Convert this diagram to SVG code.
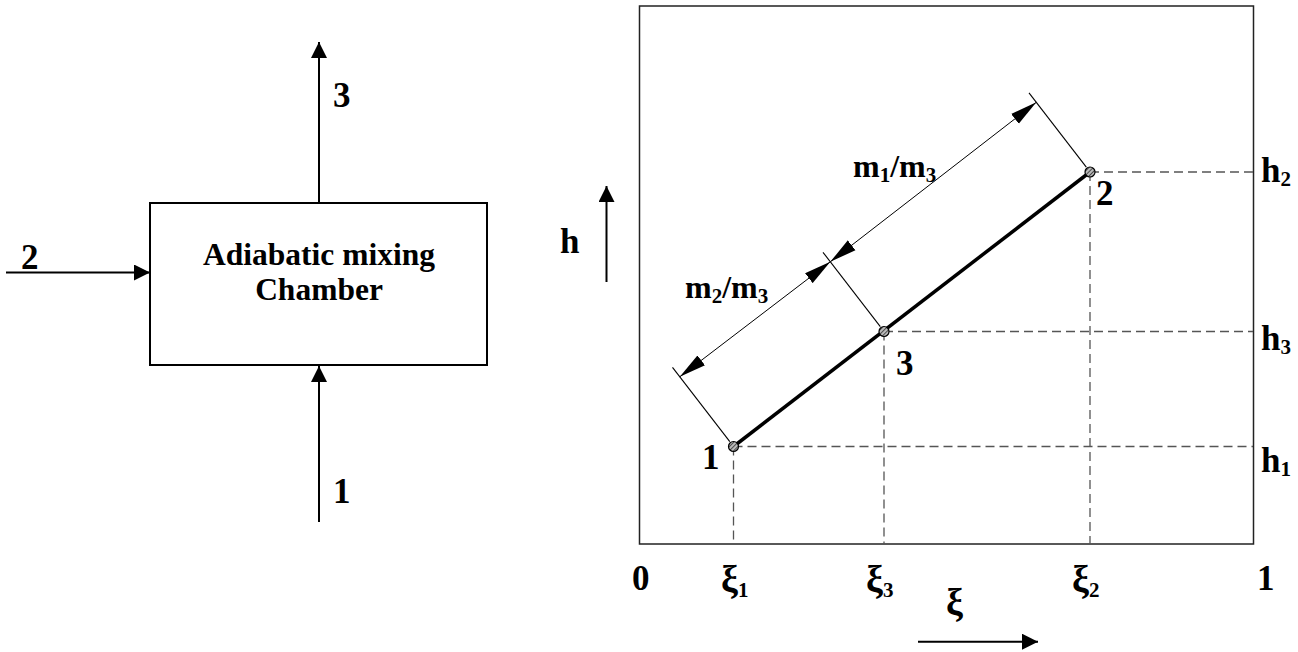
<svg xmlns="http://www.w3.org/2000/svg" width="1298" height="652" viewBox="0 0 1298 652">
<style>
  text { font-family: "Liberation Serif", "Times New Roman", serif; font-weight: bold; fill: #000; }
  .lbl { font-size: 35px; }
  .mlbl { font-size: 32px; }
  .xi { font-size: 38px; }
  .box-text { font-size: 31.5px; text-anchor: middle; }
  .sub { font-size: 21px; }
  .flow { stroke: #000; stroke-width: 2; fill: none; }
  .dash { stroke: #555; stroke-width: 1.3; stroke-dasharray: 9 5; fill: none; }
  .ext { stroke: #000; stroke-width: 1.1; fill: none; }
  .dim { stroke: #000; stroke-width: 1; fill: none; }
  .pt { fill: url(#hatch); stroke: #000; stroke-width: 1.2; }
</style>
<defs>
  <marker id="arr" markerUnits="userSpaceOnUse" markerWidth="16" markerHeight="16" viewBox="0 0 15 15" refX="15" refY="7.5" orient="auto">
    <path d="M0,0 L15,7.5 L0,15 Z" fill="#000"/>
  </marker>
  <marker id="darr" markerUnits="userSpaceOnUse" markerWidth="27" markerHeight="13" viewBox="0 0 26 12" refX="26" refY="6" orient="auto-start-reverse">
    <path d="M0,0 L26,6 L0,12 Z" fill="#000"/>
  </marker>
  <pattern id="hatch" patternUnits="userSpaceOnUse" width="3" height="3" patternTransform="rotate(45)">
    <rect width="3" height="3" fill="#bbb"/>
    <line x1="0" y1="0" x2="0" y2="3" stroke="#000" stroke-width="1.2"/>
  </pattern>
</defs>

<!-- Left: mixing chamber -->
<g id="chamber">
  <rect x="150" y="203" width="337" height="162" fill="#fff" stroke="#000" stroke-width="2"/>
  <text class="box-text" x="319" y="265">Adiabatic mixing</text>
  <text class="box-text" x="319" y="300">Chamber</text>
</g>
<g id="flows">
  <line class="flow" x1="319" y1="203" x2="319" y2="42" marker-end="url(#arr)"/>
  <line class="flow" x1="6" y1="272.5" x2="150" y2="272.5" marker-end="url(#arr)"/>
  <line class="flow" x1="319" y1="522" x2="319" y2="366" marker-end="url(#arr)"/>
</g>
<g id="flow-labels">
  <text class="lbl" x="333" y="107">3</text>
  <text class="lbl" x="21" y="269">2</text>
  <text class="lbl" x="333" y="503">1</text>
</g>

<!-- Right: h-xi diagram -->
<g id="frame">
  <rect x="639.5" y="6" width="614" height="538" fill="none" stroke="#222" stroke-width="1.5"/>
</g>
<g id="guides">
  <line class="dash" x1="1090" y1="172" x2="1253" y2="172"/>
  <line class="dash" x1="884" y1="331.5" x2="1253" y2="331.5"/>
  <line class="dash" x1="733.5" y1="446.5" x2="1253" y2="446.5"/>
  <line class="dash" x1="733.5" y1="446.5" x2="733.5" y2="544"/>
  <line class="dash" x1="884" y1="331.5" x2="884" y2="544"/>
  <line class="dash" x1="1090" y1="172" x2="1090" y2="544"/>
</g>
<g id="mixing-line">
  <line x1="733.5" y1="446.5" x2="1090" y2="172" stroke="#000" stroke-width="3.5"/>
</g>
<g id="dimensions">
  <line class="ext" x1="729.8" y1="441.7" x2="672.5" y2="367.3"/>
  <line class="ext" x1="880.3" y1="326.7" x2="823" y2="252.3"/>
  <line class="ext" x1="1086.3" y1="167.2" x2="1029" y2="92.8"/>
  <line class="dim" x1="679.8" y1="376.8" x2="830.3" y2="261.8" marker-start="url(#darr)" marker-end="url(#darr)"/>
  <line class="dim" x1="830.3" y1="261.8" x2="1036.3" y2="102.3" marker-start="url(#darr)" marker-end="url(#darr)"/>
</g>
<g id="point-1"><circle class="pt" cx="733.5" cy="446.5" r="5"/><text class="lbl" x="702" y="469">1</text></g>
<g id="point-3"><circle class="pt" cx="884" cy="331.5" r="5"/><text class="lbl" x="896" y="375">3</text></g>
<g id="point-2"><circle class="pt" cx="1090" cy="172" r="5"/><text class="lbl" x="1096" y="205">2</text></g>

<g id="dim-labels">
  <text class="mlbl" x="853" y="177">m<tspan class="sub" dy="5">1</tspan><tspan dy="-5">/m</tspan><tspan class="sub" dy="5">3</tspan></text>
  <text class="mlbl" x="685" y="298">m<tspan class="sub" dy="5">2</tspan><tspan dy="-5">/m</tspan><tspan class="sub" dy="5">3</tspan></text>
</g>

<g id="h-axis">
  <text class="lbl" x="560" y="253">h</text>
  <line class="flow" x1="606.5" y1="282" x2="606.5" y2="186" marker-end="url(#arr)"/>
  <text class="lbl" x="1261" y="182">h<tspan class="sub" dy="4">2</tspan></text>
  <text class="lbl" x="1261" y="350">h<tspan class="sub" dy="4">3</tspan></text>
  <text class="lbl" x="1261" y="472">h<tspan class="sub" dy="4">1</tspan></text>
</g>
<g id="xi-axis">
  <text class="lbl" x="632" y="590">0</text>
  <text class="xi" x="721" y="592">ξ<tspan class="sub" dy="5">1</tspan></text>
  <text class="xi" x="866" y="592">ξ<tspan class="sub" dy="5">3</tspan></text>
  <text class="xi" x="1072" y="592">ξ<tspan class="sub" dy="5">2</tspan></text>
  <text class="lbl" x="1257" y="590">1</text>
  <text class="xi" x="946" y="615">ξ</text>
  <line class="flow" x1="918" y1="641.7" x2="1038" y2="641.7" marker-end="url(#arr)"/>
</g>
</svg>
